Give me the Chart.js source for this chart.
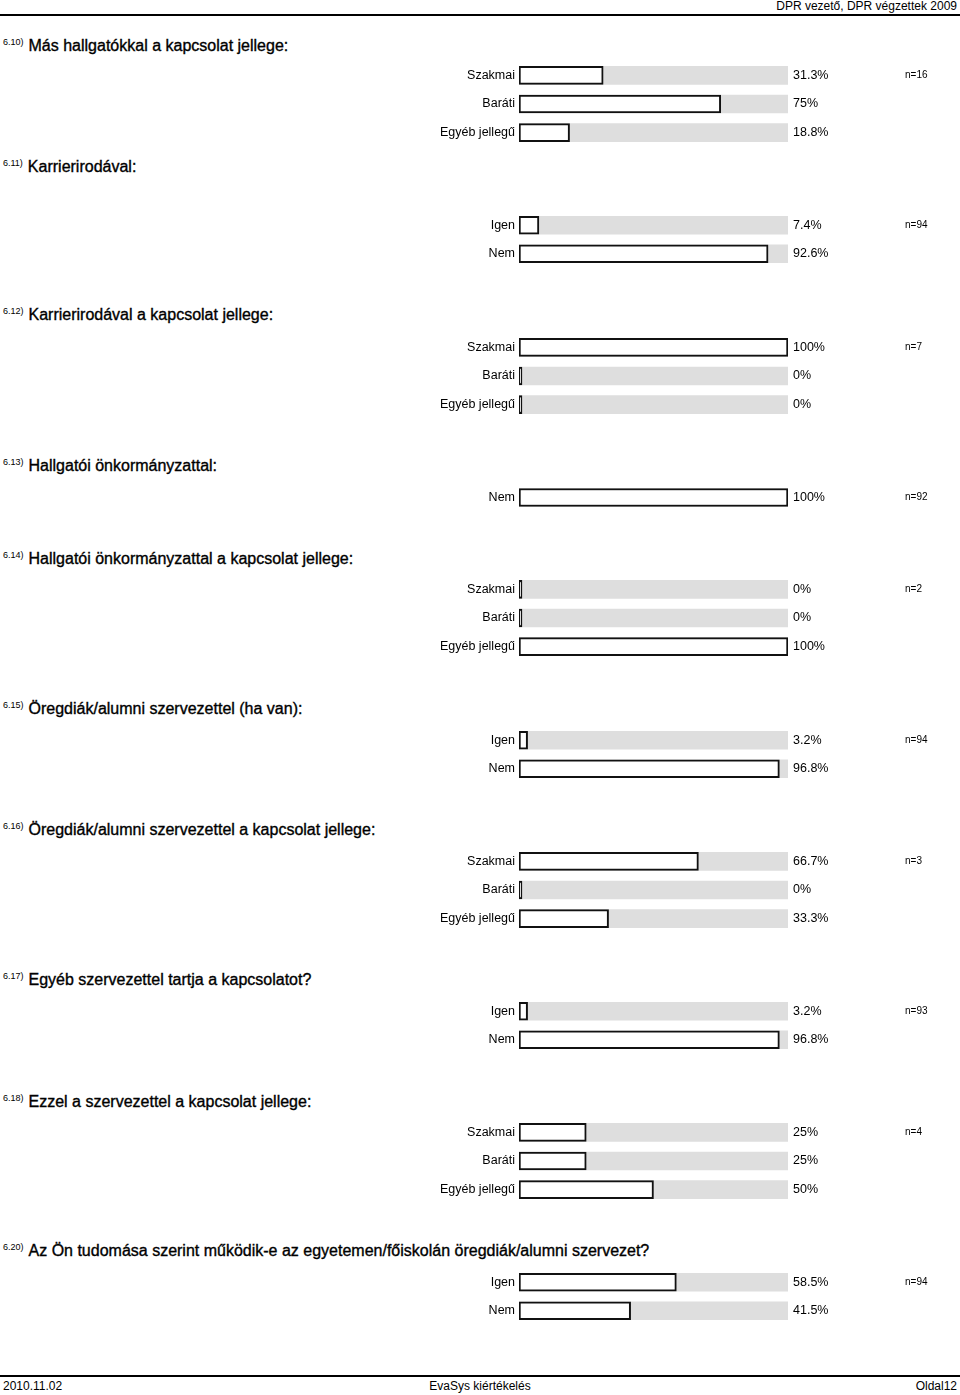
<!DOCTYPE html>
<html>
<head>
<meta charset="utf-8">
<script src="https://cdn.jsdelivr.net/npm/chart.js@4.4.0/dist/chart.umd.min.js"></script>
<style>
  html, body { margin: 0; padding: 0; background: #fff; }
  body { width: 960px; height: 1395px; position: relative; overflow: hidden; font-family: "Liberation Sans", Arial, sans-serif; color: #000; }
  .hdr { position: absolute; right: 3px; top: -1px; font-size: 12px; }
  .line { position: absolute; left: 0; width: 960px; height: 2px; background: #000; }
  .qt { position: absolute; left: 3px; white-space: nowrap; }
  .qt .num { font-size: 9px; position: relative; top: -6px; margin-right: 5px; }
  .qt .txt { font-size: 16px; -webkit-text-stroke: 0.35px #000; }
  .ftr { position: absolute; top: 1379px; font-size: 12px; }
  canvas { position: absolute; left: 400px; }
</style>
</head>
<body>
<div class="hdr">DPR vezető, DPR végzettek 2009</div>
<div class="line" style="top:14px"></div>
<div id="root"></div>
<div class="line" style="top:1375px"></div>
<div class="ftr" style="left:3px">2010.11.02</div>
<div class="ftr" style="left:0;width:960px;text-align:center">EvaSys kiértékelés</div>
<div class="ftr" style="right:3px">Oldal12</div>
<script>
// ---- data ----
const q610Num = "6.10)";
const q610Title = "Más hallgatókkal a kapcsolat jellege:";
const q610Cats = ["Szakmai", "Baráti", "Egyéb jellegű"];
const q610Vals = [31.3, 75, 18.8];
const q610N = "n=16";

const q611Num = "6.11)";
const q611Title = "Karrierirodával:";
const q611Cats = ["Igen", "Nem"];
const q611Vals = [7.4, 92.6];
const q611N = "n=94";

const q612Num = "6.12)";
const q612Title = "Karrierirodával a kapcsolat jellege:";
const q612Cats = ["Szakmai", "Baráti", "Egyéb jellegű"];
const q612Vals = [100, 0, 0];
const q612N = "n=7";

const q613Num = "6.13)";
const q613Title = "Hallgatói önkormányzattal:";
const q613Cats = ["Nem"];
const q613Vals = [100];
const q613N = "n=92";

const q614Num = "6.14)";
const q614Title = "Hallgatói önkormányzattal a kapcsolat jellege:";
const q614Cats = ["Szakmai", "Baráti", "Egyéb jellegű"];
const q614Vals = [0, 0, 100];
const q614N = "n=2";

const q615Num = "6.15)";
const q615Title = "Öregdiák/alumni szervezettel (ha van):";
const q615Cats = ["Igen", "Nem"];
const q615Vals = [3.2, 96.8];
const q615N = "n=94";

const q616Num = "6.16)";
const q616Title = "Öregdiák/alumni szervezettel a kapcsolat jellege:";
const q616Cats = ["Szakmai", "Baráti", "Egyéb jellegű"];
const q616Vals = [66.7, 0, 33.3];
const q616N = "n=3";

const q617Num = "6.17)";
const q617Title = "Egyéb szervezettel tartja a kapcsolatot?";
const q617Cats = ["Igen", "Nem"];
const q617Vals = [3.2, 96.8];
const q617N = "n=93";

const q618Num = "6.18)";
const q618Title = "Ezzel a szervezettel a kapcsolat jellege:";
const q618Cats = ["Szakmai", "Baráti", "Egyéb jellegű"];
const q618Vals = [25, 25, 50];
const q618N = "n=4";

const q620Num = "6.20)";
const q620Title = "Az Ön tudomása szerint működik-e az egyetemen/főiskolán öregdiák/alumni szervezet?";
const q620Cats = ["Igen", "Nem"];
const q620Vals = [58.5, 41.5];
const q620N = "n=94";

// ---- layout (positions only) ----
const ROW = 28.5;
const PAD = 20;
const questions = [
  { num: q610Num, title: q610Title, cats: q610Cats, vals: q610Vals, n: q610N, titleY: 47,   rowY: 75.5 },
  { num: q611Num, title: q611Title, cats: q611Cats, vals: q611Vals, n: q611N, titleY: 168,  rowY: 225.5 },
  { num: q612Num, title: q612Title, cats: q612Cats, vals: q612Vals, n: q612N, titleY: 316,  rowY: 347 },
  { num: q613Num, title: q613Title, cats: q613Cats, vals: q613Vals, n: q613N, titleY: 467,  rowY: 497 },
  { num: q614Num, title: q614Title, cats: q614Cats, vals: q614Vals, n: q614N, titleY: 560,  rowY: 589.5 },
  { num: q615Num, title: q615Title, cats: q615Cats, vals: q615Vals, n: q615N, titleY: 710,  rowY: 740 },
  { num: q616Num, title: q616Title, cats: q616Cats, vals: q616Vals, n: q616N, titleY: 831,  rowY: 861 },
  { num: q617Num, title: q617Title, cats: q617Cats, vals: q617Vals, n: q617N, titleY: 981,  rowY: 1011 },
  { num: q618Num, title: q618Title, cats: q618Cats, vals: q618Vals, n: q618N, titleY: 1103, rowY: 1132.5 },
  { num: q620Num, title: q620Title, cats: q620Cats, vals: q620Vals, n: q620N, titleY: 1252, rowY: 1282 }
];

const FONT = '"Liberation Sans", Arial, sans-serif';

const valueLabels = {
  id: 'valueLabels',
  afterDatasetsDraw(chart, args, opts) {
    const ctx = chart.ctx;
    const meta = chart.getDatasetMeta(0);
    const area = chart.chartArea;
    ctx.save();
    ctx.fillStyle = '#000';
    ctx.textBaseline = 'middle';
    ctx.textAlign = 'left';
    meta.data.forEach((el, i) => {
      ctx.font = '12.5px ' + FONT;
      ctx.fillText(String(chart.data.datasets[0].data[i]) + '%', area.right + 5, el.y);
      if (i === 0) {
        ctx.font = '10px ' + FONT;
        ctx.fillText(opts.n, area.right + 117, el.y);
      }
    });
    ctx.restore();
  }
};

const root = document.getElementById('root');
questions.forEach((q) => {
  const t = document.createElement('div');
  t.className = 'qt';
  t.style.top = (q.titleY - 10) + 'px';
  t.innerHTML = '<span class="num"></span><span class="txt"></span>';
  t.querySelector('.num').textContent = q.num;
  t.querySelector('.txt').textContent = q.title;
  root.appendChild(t);

  const h = q.cats.length * ROW + 2 * PAD;
  const c = document.createElement('canvas');
  c.width = 560; c.height = Math.round(h);
  c.style.width = '560px'; c.style.height = Math.round(h) + 'px';
  c.style.top = Math.round(q.rowY - ROW / 2 - PAD) + 'px';
  root.appendChild(c);

  new Chart(c, {
    type: 'bar',
    data: {
      labels: q.cats,
      datasets: [
        {
          data: q.vals,
          backgroundColor: '#ffffff',
          borderColor: '#111111',
          borderWidth: 2,
          borderSkipped: false,
          barThickness: 18,
          minBarLength: 3,
          order: 0
        },
        {
          data: q.cats.map(() => 100),
          backgroundColor: '#dedede',
          borderWidth: 0,
          barThickness: 18,
          order: 1
        }
      ]
    },
    options: {
      indexAxis: 'y',
      responsive: false,
      animation: false,
      devicePixelRatio: 1,
      grouped: false,
      layout: { padding: { left: 0, right: 172, top: PAD, bottom: PAD } },
      plugins: {
        legend: { display: false },
        tooltip: { enabled: false },
        valueLabels: { n: q.n }
      },
      scales: {
        x: { display: false, min: 0, max: 100 },
        y: {
          grid: { display: false, drawTicks: false },
          border: { display: false },
          ticks: { color: '#000', font: { size: 12.5, family: FONT }, padding: 4 },
          afterFit: (s) => { s.width = 119; }
        }
      }
    },
    plugins: [valueLabels]
  });
});
</script>
</body>
</html>
